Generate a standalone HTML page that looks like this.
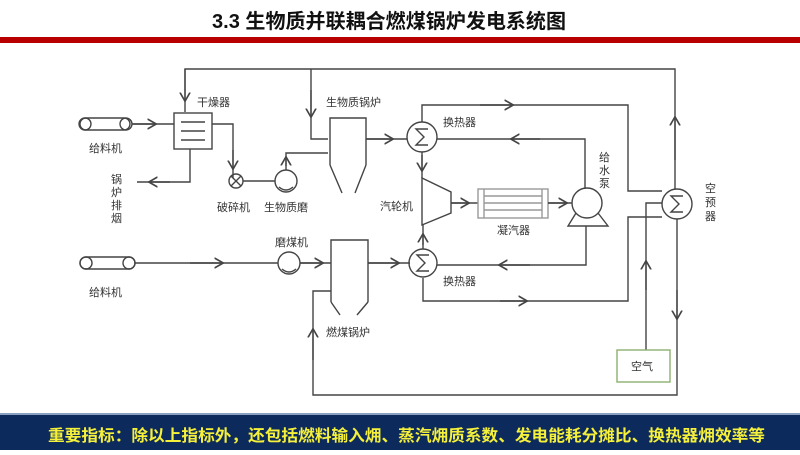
<!DOCTYPE html>
<html><head><meta charset="utf-8"><style>
body{margin:0;width:800px;height:450px;overflow:hidden;background:#fff;font-family:"Liberation Sans","Noto Sans CJK SC",sans-serif}
</style></head><body>
<svg width="800" height="450" viewBox="0 0 800 450" xmlns="http://www.w3.org/2000/svg" font-family="'Liberation Sans','Noto Sans CJK SC',sans-serif">
<text x="212" y="28" textLength="354" lengthAdjust="spacingAndGlyphs" font-size="20" font-weight="bold" fill="#111">3.3 生物质并联耦合燃煤锅炉发电系统图</text>
<rect x="0" y="37" width="800" height="6" fill="#b80000"/>
<rect x="0" y="413" width="800" height="37" fill="#0d2a5c"/>
<rect x="0" y="413" width="800" height="2" fill="#8aa0c0"/>
<text x="48" y="441" textLength="717" lengthAdjust="spacingAndGlyphs" font-size="16" font-weight="bold" fill="#f5f03a">重要指标：除以上指标外，还包括燃料输入㶲、蒸汽㶲质系数、发电能耗分摊比、换热器㶲效率等</text>
<defs>
<marker id="a" viewBox="0 0 10 10" refX="6" refY="5" markerWidth="9" markerHeight="9" orient="auto"><path d="M0,1 L7,5 L0,9" fill="none" stroke="#444" stroke-width="1.3"/></marker>
</defs>
<g fill="none" stroke="#444" stroke-width="1.4">
<path d="M185,112 V69 H675 V189"/>
<path d="M185,69 V100" marker-end="url(#a)"/>
<path d="M675,160 V118" marker-end="url(#a)"/>
<path d="M311,69 V139 H328"/>
<path d="M311,90 V116" marker-end="url(#a)"/>
<rect x="80" y="118" width="50" height="12" rx="6"/>
<circle cx="85" cy="124" r="6"/><circle cx="126" cy="124" r="6"/>
<path d="M132,124 H174"/><path d="M132,124 H155" marker-end="url(#a)"/>
<rect x="174" y="113" width="38" height="36"/>
<path d="M181,122 H205 M181,131 H205 M181,140 H205"/>
<path d="M212,124 H233 V178"/><path d="M233,150 V168" marker-end="url(#a)"/>
<circle cx="236" cy="181" r="7"/><path d="M231,176 L241,186 M241,176 L231,186"/>
<path d="M243,181 H275"/>
<circle cx="286" cy="181" r="11"/>
<path d="M279,187 q7,6 14,0" />
<path d="M286,170 V153 H328"/><path d="M286,166 V158" marker-end="url(#a)"/>
<path d="M190,149 V182 H137"/><path d="M170,182 H150" marker-end="url(#a)"/>
<path d="M330,165 V118 H366 V165"/>
<path d="M330,165 L342,193 M366,165 L355,193"/>
<path d="M366,139 H407"/><path d="M366,139 H392" marker-end="url(#a)"/>
<circle cx="422" cy="137" r="15"/>
<path d="M428,129 H416 L424,137 L416,145 H428"/>
<path d="M422,122 V105 H628 V191 H662"/><path d="M480,105 H512" marker-end="url(#a)"/>
<path d="M437,139 H585 V189"/><path d="M540,139 H512" marker-end="url(#a)"/>
<path d="M422,152 V178"/><path d="M422,155 V170" marker-end="url(#a)"/>
<path d="M422,178 L451,192 V213 L422,225 Z"/>
<path d="M451,203 H478"/><path d="M451,203 H468" marker-end="url(#a)"/>
<g stroke="#999"><rect x="478" y="189" width="70" height="29"/><path d="M484,189 V218 M542,189 V218 M484,196 H542 M484,203 H542 M484,210 H542"/></g>
<path d="M548,203 H572"/><path d="M548,203 H566" marker-end="url(#a)"/>
<circle cx="587" cy="203" r="15"/>
<path d="M576,213 L568,226 H608 L598,213"/>
<circle cx="677" cy="204" r="15"/>
<path d="M683,196 H671 L679,204 L671,212 H683"/>
<path d="M662,203 H646 V350"/><path d="M646,290 V262" marker-end="url(#a)"/>
<path d="M662,217 H628 V301 H423 V278"/><path d="M500,301 H526" marker-end="url(#a)"/>
<path d="M677,219 V395 H313 V291 H331"/><path d="M677,290 V318" marker-end="url(#a)"/><path d="M313,360 V330" marker-end="url(#a)"/>
<rect x="80" y="257" width="55" height="12" rx="6"/>
<circle cx="86" cy="263" r="6"/><circle cx="129" cy="263" r="6"/>
<path d="M135,263 H278"/><path d="M190,263 H222" marker-end="url(#a)"/>
<circle cx="289" cy="263" r="11"/><path d="M282,269 q7,6 14,0"/>
<path d="M300,263 H331"/><path d="M300,263 H322" marker-end="url(#a)"/>
<path d="M331,302 V240 H368 V302"/>
<path d="M331,302 L340,315 M368,302 L357,315"/>
<path d="M368,263 H410"/><path d="M368,263 H398" marker-end="url(#a)"/>
<circle cx="423" cy="263" r="14"/>
<path d="M429,255 H417 L425,263 L417,271 H429"/>
<path d="M423,249 V225"/><path d="M423,245 V235" marker-end="url(#a)"/>
<path d="M437,265 H586 V226"/><path d="M530,265 H500" marker-end="url(#a)"/>
<rect x="617" y="350" width="53" height="32" stroke="#8bb070"/>
</g>
<g font-size="11" fill="#333">
<text x="197" y="106">干燥器</text>
<text x="326" y="106">生物质锅炉</text>
<text x="89" y="152">给料机</text>
<text x="111" y="183">锅</text><text x="111" y="196">炉</text><text x="111" y="209">排</text><text x="111" y="222">烟</text>
<text x="217" y="211">破碎机</text>
<text x="264" y="211">生物质磨</text>
<text x="443" y="126">换热器</text>
<text x="380" y="210">汽轮机</text>
<text x="497" y="234">凝汽器</text>
<text x="599" y="161">给</text><text x="599" y="174">水</text><text x="599" y="187">泵</text>
<text x="705" y="192">空</text><text x="705" y="206">预</text><text x="705" y="220">器</text>
<text x="275" y="246">磨煤机</text>
<text x="89" y="296">给料机</text>
<text x="443" y="285">换热器</text>
<text x="326" y="336">燃煤锅炉</text>
<text x="631" y="370">空气</text>
</g>
</svg>
</body></html>
